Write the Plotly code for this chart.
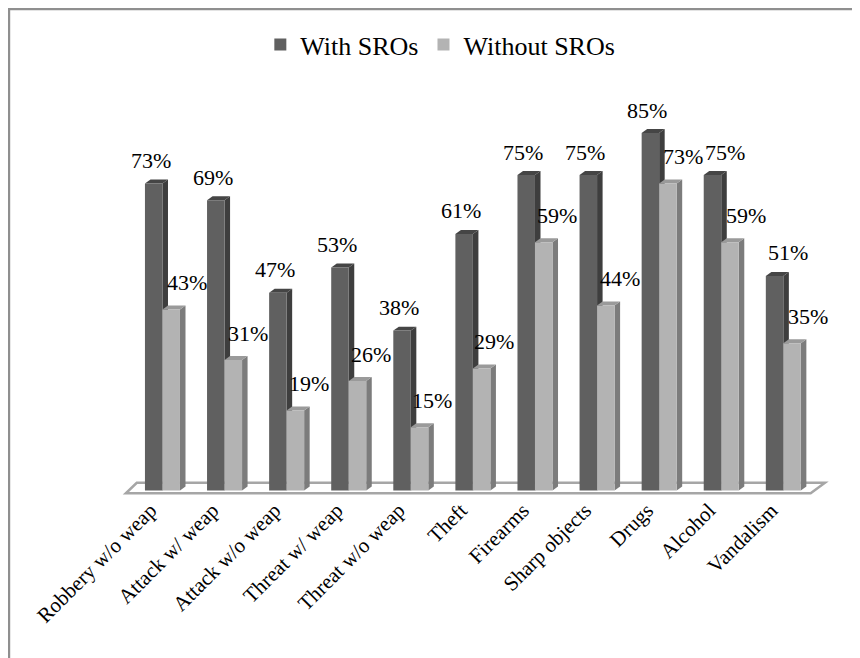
import plotly.graph_objects as go

categories = ["Robbery w/o weap", "Attack w/ weap", "Attack w/o weap", "Threat w/ weap",
              "Threat w/o weap", "Theft", "Firearms", "Sharp objects", "Drugs", "Alcohol", "Vandalism"]
with_sro = [73, 69, 47, 53, 38, 61, 75, 75, 85, 75, 51]
without_sro = [43, 31, 19, 26, 15, 29, 59, 44, 73, 59, 35]
series_names = ["With SROs", "Without SROs"]

FONT = "Liberation Serif"
DARK, DARK_SIDE, DARK_TOP = "#606060", "#3e3e3e", "#454545"
LIGHT, LIGHT_SIDE, LIGHT_TOP = "#b3b3b3", "#7c7c7c", "#9a9a9a"

W = 0.282   # bar width (x units)
DX = 0.089  # depth in x
DY = 0.95   # depth in y

# geometry (figure pixels; page has 8px body margin)
FW, FH = 852, 650
L, T = 111.3, 104.3
plot_w, plot_h = 713.7, 390.6
R_M = FW - L - plot_w
B = FH - T - plot_h
XR = [-0.7, 10.8]
YR = [-3, 90]

idx = list(range(len(categories)))

fig = go.Figure()
fig.add_trace(go.Bar(x=idx, y=with_sro, width=W, offset=-W, name=series_names[0],
                     marker=dict(color=DARK, line=dict(width=0))))
fig.add_trace(go.Bar(x=idx, y=without_sro, width=W, offset=0, name=series_names[1],
                     marker=dict(color=LIGHT, line=dict(width=0))))

def poly(pts):
    return "M" + " L".join(f"{x},{y}" for x, y in pts) + " Z"

shapes = []
# floor
shapes.append(dict(type="path", xref="x", yref="y", layer="below",
                   path=poly([(-0.59, -0.7), (10.44, -0.7), (10.67, 1.8), (-0.414, 1.8)]),
                   fillcolor="white", line=dict(color="#a6a6a6", width=2.5)))
for c, vd, vl in zip(idx, with_sro, without_sro):
    shapes.append(dict(type="path", xref="x", yref="y", layer="below",
                       path=poly([(c, 0), (c + DX, DY), (c + DX, vd + DY), (c, vd)]),
                       fillcolor=DARK_SIDE, line=dict(width=0)))
    shapes.append(dict(type="path", xref="x", yref="y", layer="below",
                       path=poly([(c - W, vd), (c, vd), (c + DX, vd + DY), (c - W + DX, vd + DY)]),
                       fillcolor=DARK_TOP, line=dict(width=0)))
    shapes.append(dict(type="path", xref="x", yref="y", layer="below",
                       path=poly([(c + W, 0), (c + W + DX, DY), (c + W + DX, vl + DY), (c + W, vl)]),
                       fillcolor=LIGHT_SIDE, line=dict(width=0)))
    shapes.append(dict(type="path", xref="x", yref="y", layer="below",
                       path=poly([(c, vl), (c + W, vl), (c + W + DX, vl + DY), (c + DX, vl + DY)]),
                       fillcolor=LIGHT_TOP, line=dict(width=0)))

# outer border (extends past right/bottom edge)
shapes.append(dict(type="rect", xref="paper", yref="paper",
                   x0=(1.3 - L) / plot_w, x1=(FW + 20 - L) / plot_w,
                   y0=(T + plot_h - FH - 20) / plot_h, y1=(T + plot_h - 1.3) / plot_h,
                   line=dict(color="#8f8f8f", width=2.5), fillcolor="rgba(0,0,0,0)", layer="below"))

annotations = []
n = len(idx)
for c, vd, vl in zip(idx, with_sro, without_sro):
    # dark label nudged right when it would collide with the neighbouring light label
    nudge = 16 if (c > 0 and vd - without_sro[c - 1] < 6) else 0
    annotations.append(dict(x=c - W / 2, y=vd, xref="x", yref="y", text=f"{vd}%",
                            showarrow=False, xshift=-3 + nudge, yshift=23,
                            font=dict(family=FONT, size=22, color="black")))
    # light labels sit up and to the right (slight perspective spread)
    annotations.append(dict(x=c + W / 2, y=vl, xref="x", yref="y", text=f"{vl}%",
                            showarrow=False, xshift=12 + 0.8 * abs(c - (n - 1) / 2 + 0.5), yshift=27,
                            font=dict(family=FONT, size=22, color="black")))

fig.update_layout(
    width=FW, height=FH,
    margin=dict(l=L, r=R_M, t=T, b=B, pad=0),
    paper_bgcolor="white", plot_bgcolor="white",
    barmode="overlay",
    showlegend=True,
    legend=dict(orientation="h", x=(432.5 - L) / plot_w, xanchor="center",
                y=(T + plot_h - 37) / plot_h, yanchor="middle",
                font=dict(family=FONT, size=26, color="black"),
                bgcolor="rgba(0,0,0,0)", itemwidth=30),
    xaxis=dict(range=XR, tickmode="array", tickvals=idx, ticktext=categories,
               tickangle=-45, showgrid=False, zeroline=False, showline=False, ticks="",
               ticklabelstandoff=-10, ticklabelshift=-12,
               tickfont=dict(family=FONT, size=21, color="black")),
    yaxis=dict(range=YR, visible=False, showgrid=False, zeroline=False),
    shapes=shapes,
    annotations=annotations,
)

fig.write_html("out.html")
